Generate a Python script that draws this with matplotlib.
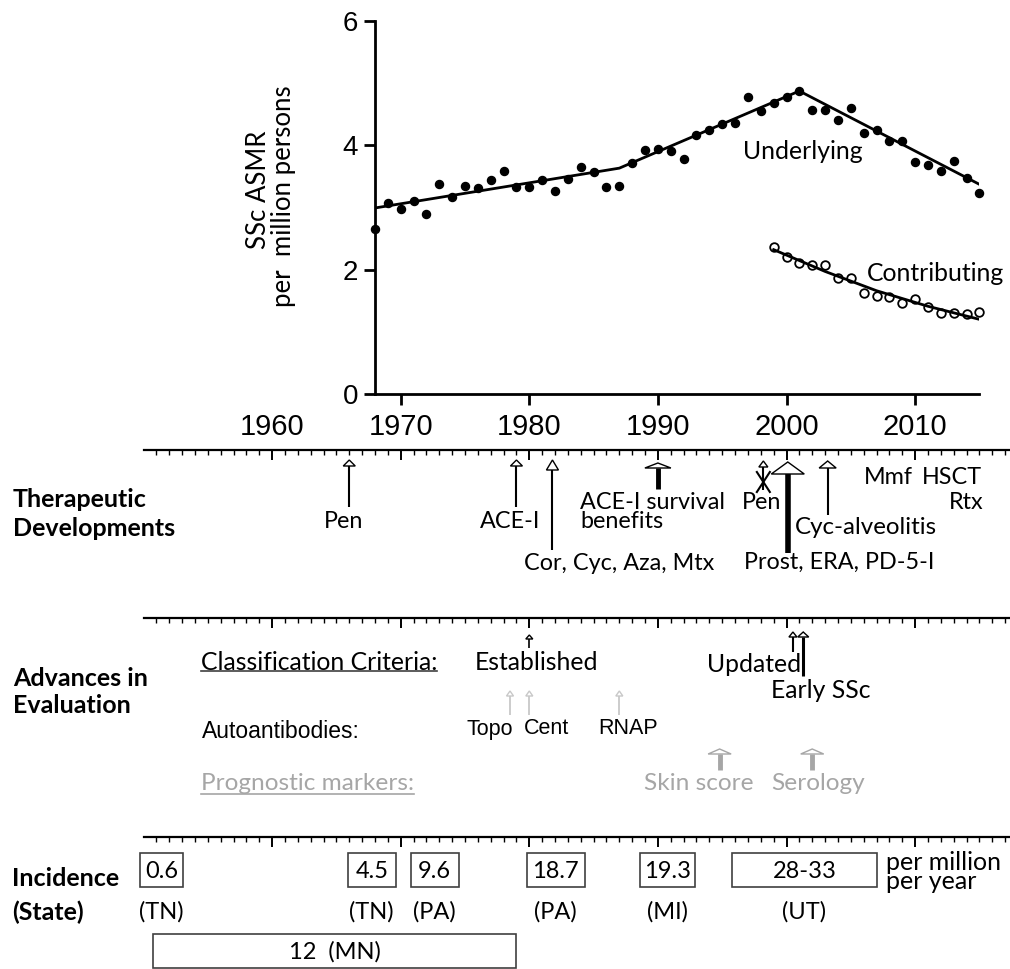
import matplotlib.pyplot as plt
from matplotlib.patches import Polygon, Rectangle

plt.rcParams['font.family'] = ['Lato', 'DejaVu Sans']

# --- SSc age-standardised mortality (per million) ---
years_under = list(range(1968, 2016))
asmr_under = [2.66, 3.07, 2.97, 3.10, 2.89, 3.38, 3.16, 3.35, 3.31, 3.44,
              3.59, 3.32, 3.32, 3.44, 3.27, 3.46, 3.65, 3.57, 3.32, 3.35,
              3.72, 3.92, 3.94, 3.91, 3.77, 4.17, 4.24, 4.34, 4.35, 4.78,
              4.55, 4.67, 4.77, 4.87, 4.57, 4.57, 4.40, 4.60, 4.20, 4.24,
              4.07, 4.06, 3.73, 3.68, 3.59, 3.74, 3.47, 3.23]
years_contrib = list(range(1999, 2016))
asmr_contrib = [2.37, 2.21, 2.11, 2.08, 2.08, 1.87, 1.86, 1.62, 1.58, 1.56,
                1.47, 1.52, 1.40, 1.30, 1.30, 1.29, 1.32]
trend_under_years = [1968, 1987, 2001, 2015]
trend_under = [2.99, 3.63, 4.87, 3.37]
trend_contrib_years = [1999, 2003, 2007, 2011, 2015]
trend_contrib = [2.32, 1.97, 1.66, 1.41, 1.20]

decades = [1960, 1970, 1980, 1990, 2000, 2010]

# --- timeline events ---
therapy_years = [1966, 1979, 1981.8, 1990, 1998.2, 2000.1, 2003.2]
therapy_labels = ['Pen', 'ACE-I', 'Cor, Cyc, Aza, Mtx', 'ACE-I survival\nbenefits',
                  'Pen', 'Prost, ERA, PD-5-I', 'Cyc-alveolitis']
later_years = [2007.9, 2012.9, 2014.0]
later_labels = ['Mmf', 'HSCT', 'Rtx']

criteria_years = [1980, 2000.5, 2001.3]
criteria_labels = ['Established', 'Updated', 'Early SSc']
antibody_years = [1978.5, 1980, 1987]
antibody_labels = ['Topo', 'Cent', 'RNAP']
marker_years = [1994.8, 2002]
marker_labels = ['Skin score', 'Serology']

incid_vals = ['0.6', '4.5', '9.6', '18.7', '19.3', '28-33']
incid_states = ['(TN)', '(TN)', '(PA)', '(PA)', '(MI)', '(UT)']
incid_start = [1949.7, 1965.9, 1970.8, 1979.8, 1988.6, 1995.8]
incid_end = [1953.1, 1969.6, 1974.5, 1984.3, 1992.9, 2007.0]
mn_start, mn_end, mn_label = 1950.7, 1979.0, '12  (MN)'

# layout: pixels per year, background axes in (year, pixel row)
PX = 12.86
X0 = 1970 - 400.7 / PX
ARIAL = 'Liberation Sans'
FS = 17
FT = 16.8      # therapy labels
FB = 18        # bold section labels
GREY = '#a6a6a6'
LIGHT = '#c8c8c8'

fig = plt.figure(figsize=(10.1, 9.69), dpi=100)
bg = fig.add_axes([0, 0, 1, 1])
bg.set_xlim(X0, X0 + 1010 / PX)
bg.set_ylim(969, 0)
bg.axis('off')


def px(x):
    return X0 + x / PX


def timeline(row):
    bg.plot([1950, X0 + 1010 / PX], [row, row], color='black', lw=1.6)
    minor = [y for y in range(1951, 2018) if y % 10]
    major = [y for y in range(1951, 2018) if y % 10 == 0]
    bg.vlines(minor, row, row + 5, color='black', lw=1.0)
    bg.vlines(major, row, row + 10, color='black', lw=1.4)


def arrow(yr, tip, tail, hw, hh, lw, color='black'):
    half = hw / 2 / PX
    bg.plot([yr, yr], [tip + hh, tail], color=color, lw=lw, solid_capstyle='butt')
    bg.add_patch(Polygon([[yr - half, tip + hh], [yr, tip], [yr + half, tip + hh]],
                         closed=True, fc='white', ec=color, lw=1.0, zorder=3))


# ---------------- top chart ----------------
ax = fig.add_axes([375 / 1010, 1 - 394 / 969, 604.4 / 1010, (394 - 20.7) / 969])
ax.set_xlim(1968, 2015)
ax.set_ylim(0, 6)
ax.patch.set_alpha(0)
ax.plot(years_under, asmr_under, 'o', color='black', ms=5.8, clip_on=False)
ax.plot(trend_under_years, trend_under, color='black', lw=2.0)
ax.plot(years_contrib, asmr_contrib, 'o', mfc='white', mec='black', mew=1.3, ms=6.2, clip_on=False)
ax.plot(trend_contrib_years, trend_contrib, color='black', lw=2.0)
ax.text(2001.3, 3.9, 'Underlying', fontsize=17.8, ha='center', va='center')
ax.text(2011.55, 1.94, 'Contributing', fontsize=17.8, ha='center', va='center')
for s in ['top', 'right']:
    ax.spines[s].set_visible(False)
for s in ['left', 'bottom']:
    ax.spines[s].set_linewidth(2)
ax.set_yticks([0, 2, 4, 6])
ax.set_yticklabels(['0', '2', '4', '6'], fontsize=20, family=ARIAL)
ax.set_xticks(decades[1:])
ax.set_xticklabels([])
ax.tick_params(direction='out', length=8, width=2, pad=4)

bg.text(px(259), 190, 'SSc ASMR', rotation=90, fontsize=18.5, ha='center', va='center')
bg.text(px(284), 196, 'per  million persons', rotation=90, fontsize=18.5, ha='center', va='center')

for d in decades:
    bg.text(d, 427, str(d), fontsize=21, family=ARIAL, ha='center', va='center')

# ---------------- therapeutic developments ----------------
timeline(450)
bg.text(px(13), 514, 'Therapeutic\nDevelopments', fontsize=FB, fontweight='bold',
        ha='left', va='center', linespacing=1.3)

arrow(therapy_years[0], 460, 507, 12, 6, 1.5)
arrow(therapy_years[1], 460, 507, 12, 6, 1.5)
arrow(therapy_years[2], 460, 550, 12, 10, 1.5)
arrow(therapy_years[3], 463, 489, 26, 5, 3.5)
arrow(therapy_years[4], 461, 490, 9, 6, 1.5)
arrow(therapy_years[5], 462, 553, 33, 12, 4.0)
arrow(therapy_years[6], 461, 515, 17, 7, 1.5)
# X over discontinued penicillamine
xa = therapy_years[4]
bg.plot([xa - 6.5 / PX, xa + 6.5 / PX], [472, 492], color='black', lw=1.5)
bg.plot([xa + 6.5 / PX, xa - 6.5 / PX], [472, 492], color='black', lw=1.5)

bg.text(therapy_years[0] - 6 / PX, 522, therapy_labels[0], fontsize=FT, ha='center', va='center')
bg.text(therapy_years[1] - 6 / PX, 522, therapy_labels[1], fontsize=FT, ha='center', va='center')
bg.text(therapy_years[2] + 67 / PX, 563, therapy_labels[2], fontsize=FT, ha='center', va='center')
bg.text(therapy_years[3] - 78 / PX, 512, therapy_labels[3], fontsize=FT, ha='left', va='center',
        linespacing=0.85)
bg.text(therapy_years[4] - 2 / PX, 502, therapy_labels[4], fontsize=FT, ha='center', va='center')
bg.text(therapy_years[5] + 51 / PX, 562, therapy_labels[5], fontsize=FT, ha='center', va='center')
bg.text(therapy_years[6] + 38 / PX, 527, therapy_labels[6], fontsize=17.4, ha='center', va='center')
for yr, lab, row in zip(later_years, later_labels, [477, 477, 502]):
    bg.text(yr, row, lab, fontsize=FT, ha='center', va='center')

# ---------------- advances in evaluation ----------------
timeline(618)
bg.text(px(13), 692, 'Advances in\nEvaluation', fontsize=FB, fontweight='bold',
        ha='left', va='center', linespacing=1.25)

t_cc = bg.text(px(201), 662, 'Classification Criteria:', fontsize=17.8, ha='left', va='center')
bg.text(px(202), 731, 'Autoantibodies:', fontsize=16.5, family=ARIAL, ha='left', va='center')
t_pm = bg.text(px(201), 784, 'Prognostic markers:', fontsize=17.6, color=GREY, ha='left', va='center')

arrow(criteria_years[0], 635, 648, 7, 4, 1.2)
arrow(criteria_years[1], 632, 652, 8, 5, 1.5)
arrow(criteria_years[2], 632, 676, 11, 5, 2.2)
bg.text(criteria_years[0] + 7.5 / PX, 662, criteria_labels[0], fontsize=FS + 0.8, ha='center', va='center')
bg.text(criteria_years[1] - 38.6 / PX, 665, criteria_labels[1], fontsize=FS + 0.8, ha='center', va='center')
bg.text(criteria_years[2] + 17.3 / PX, 690, criteria_labels[2], fontsize=FS + 0.8, ha='center', va='center')

for yr in antibody_years:
    arrow(yr, 691, 715, 7, 5, 1.3, color=LIGHT)
for yr, lab, dx in zip(antibody_years, antibody_labels, [-20, 17, 8.3]):
    bg.text(yr + dx / PX, 729, lab, fontsize=15.5, family=ARIAL, ha='center', va='center')

for yr in marker_years:
    arrow(yr, 749, 770, 23, 5, 3.5, color=GREY)
for yr, lab, dx in zip(marker_years, marker_labels, [-20.7, 6]):
    bg.text(yr + dx / PX, 783, lab, fontsize=FS + 0.6, color=GREY, ha='center', va='center')

# ---------------- incidence ----------------
timeline(837)
bg.text(px(12), 878, 'Incidence', fontsize=FB, fontweight='bold', ha='left', va='center')
bg.text(px(12), 912, '(State)', fontsize=FB, fontweight='bold', ha='left', va='center')
for s, e, v, st in zip(incid_start, incid_end, incid_vals, incid_states):
    bg.add_patch(Rectangle((s, 853), e - s, 34, fill=False, ec='#404040', lw=1.2))
    bg.text((s + e) / 2, 871, v, fontsize=FS, ha='center', va='center')
    bg.text((s + e) / 2, 912, st, fontsize=FS, ha='center', va='center')
bg.add_patch(Rectangle((mn_start, 934), mn_end - mn_start, 34, fill=False, ec='#404040', lw=1.2))
bg.text((mn_start + mn_end) / 2, 952, mn_label, fontsize=FS, ha='center', va='center')
bg.text(px(886), 872, 'per million\nper year', fontsize=18, ha='left', va='center', linespacing=0.8)

# underlines
fig.canvas.draw()
inv = bg.transData.inverted()
for t, row, col in [(t_cc, 671, '#404040'), (t_pm, 794, GREY)]:
    bb = t.get_window_extent()
    x1 = inv.transform((bb.x0, 0))[0]
    x2 = inv.transform((bb.x1, 0))[0]
    bg.plot([x1, x2], [row, row], color=col, lw=1.2)

fig.savefig('out.png', dpi=100)
